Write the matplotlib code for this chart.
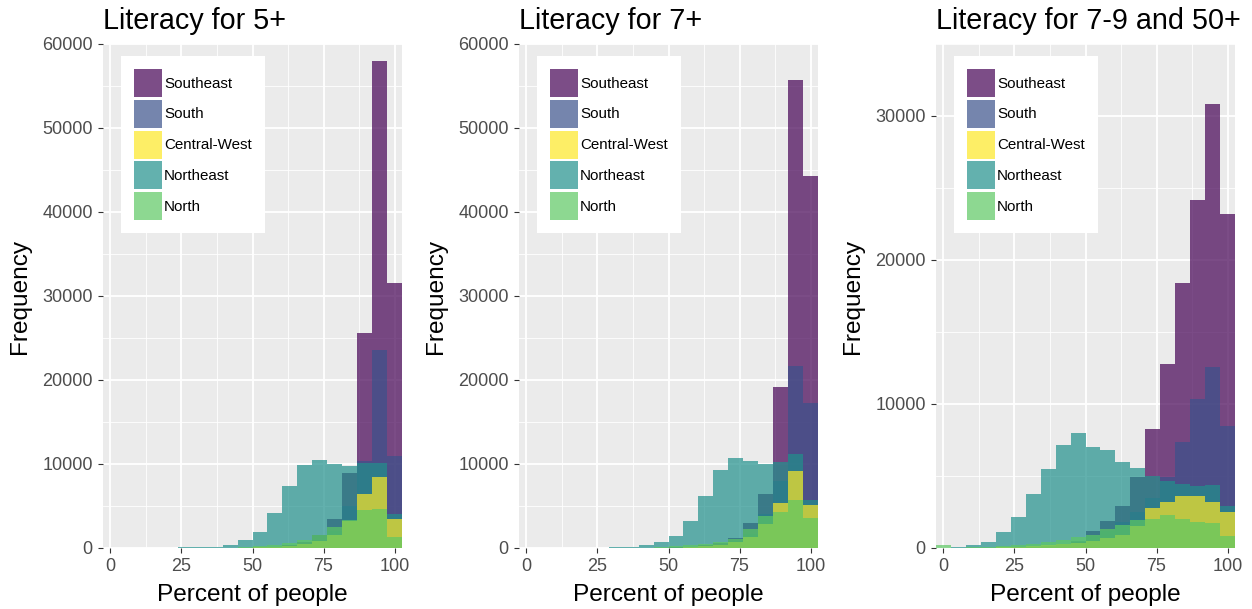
import numpy as np
import matplotlib
matplotlib.use("Agg")
import matplotlib.pyplot as plt
from matplotlib.patches import Patch
from matplotlib.ticker import AutoMinorLocator

plt.rcParams['font.family'] = ['Liberation Sans', 'DejaVu Sans']

# 20 bins of width 100/19 centred on 0, 5.26, ..., 100
n_bins = 20
titles = ["Literacy for 5+", "Literacy for 7+", "Literacy for 7-9 and 50+"]
regions = ["Southeast", "South", "Central-West", "Northeast", "North"]
draw_order = ["Southeast", "South", "Northeast", "Central-West", "North"]
colors = {"Southeast": "#440154", "South": "#3B528B", "Central-West": "#FDE725",
          "Northeast": "#21908C", "North": "#5DC863"}

# counts per bin, panel 1 (5+)
se_5 = [0, 0, 0, 0, 0, 0, 0, 10, 20, 40, 80, 150, 350, 700, 1500, 3410, 8970, 25640, 58000, 31500]
s_5 = [0, 0, 0, 0, 0, 0, 0, 5, 10, 20, 40, 80, 180, 400, 900, 2000, 5000, 10400, 23570, 10900]
cw_5 = [0, 0, 0, 0, 0, 0, 0, 5, 10, 30, 60, 120, 250, 450, 800, 1600, 3250, 6430, 8490, 3450]
ne_5 = [20, 10, 20, 30, 50, 80, 120, 150, 350, 900, 1900, 4130, 7380, 9880, 10480, 9960, 9760, 10080, 10160, 4100]
n_5 = [0, 0, 0, 0, 0, 10, 20, 30, 50, 100, 200, 320, 560, 950, 1550, 2540, 3330, 4520, 4640, 1350]

# panel 2 (7+)
se_7 = [0, 0, 0, 0, 0, 0, 0, 10, 20, 40, 60, 130, 300, 600, 1200, 2980, 6430, 19130, 55710, 44290]
s_7 = [0, 0, 0, 0, 0, 0, 0, 5, 10, 20, 30, 70, 150, 350, 800, 1700, 4000, 8000, 21670, 17220]
cw_7 = [0, 0, 0, 0, 0, 0, 0, 5, 10, 20, 50, 100, 200, 400, 700, 1300, 2800, 5400, 9170, 5120]
ne_7 = [10, 10, 10, 20, 30, 50, 80, 150, 350, 750, 1430, 3210, 6190, 9290, 10750, 10390, 10000, 10280, 11190, 5710]
n_7 = [0, 0, 0, 0, 0, 0, 10, 20, 40, 90, 180, 300, 450, 710, 1110, 2220, 3800, 4330, 5710, 3530]

# panel 3 (7-9 and 50+)
se_79 = [0, 0, 0, 0, 10, 30, 80, 150, 250, 400, 1200, 1900, 2920, 4950, 8240, 12750, 18430, 24170, 30830, 23190]
s_79 = [0, 0, 0, 0, 0, 40, 80, 150, 300, 500, 800, 1200, 1800, 2500, 3500, 4950, 7380, 10320, 12550, 8470]
cw_79 = [0, 0, 10, 20, 40, 70, 120, 180, 250, 350, 500, 700, 900, 1500, 2750, 3220, 3610, 3610, 3170, 2480]
ne_79 = [20, 50, 200, 440, 1090, 2130, 3750, 5460, 7150, 7960, 7040, 6810, 5990, 5530, 5020, 4680, 4420, 4330, 4380, 2940]
n_79 = [200, 30, 60, 80, 120, 200, 300, 400, 550, 750, 900, 1300, 1600, 1950, 2010, 2290, 2010, 1830, 1710, 860]

panels = [
    {"Southeast": se_5, "South": s_5, "Central-West": cw_5, "Northeast": ne_5, "North": n_5},
    {"Southeast": se_7, "South": s_7, "Central-West": cw_7, "Northeast": ne_7, "North": n_7},
    {"Southeast": se_79, "South": s_79, "Central-West": cw_79, "Northeast": ne_79, "North": n_79},
]
y_max = [60000, 60000, 35000]
y_ticks = [np.arange(0, 60001, 10000), np.arange(0, 60001, 10000), np.arange(0, 30001, 10000)]

width = 100 / (n_bins - 1)
edges = np.linspace(-width / 2, 100 + width / 2, n_bins + 1)

fig = plt.figure(figsize=(12.52, 6.09), dpi=100)
lefts = [103, 519, 936]

for k in range(3):
    ax = fig.add_axes([lefts[k] / 1252, 1 - 548 / 609, 299 / 1252, 504 / 609])
    ax.set_facecolor("#EBEBEB")
    for name in draw_order:
        ax.stairs(panels[k][name], edges, fill=True, color=colors[name],
                  alpha=0.7, linewidth=0)
    ax.set_xlim(edges[0], edges[-1])
    ax.set_ylim(0, y_max[k])
    ax.set_xticks([0, 25, 50, 75, 100])
    ax.set_yticks(y_ticks[k])
    ax.xaxis.set_minor_locator(AutoMinorLocator(2))
    ax.yaxis.set_minor_locator(AutoMinorLocator(2))
    ax.set_axisbelow(True)
    ax.grid(which="major", color="white", linewidth=1.3)
    ax.grid(which="minor", color="white", linewidth=0.6)
    for s in ax.spines.values():
        s.set_visible(False)
    ax.tick_params(which="major", direction="out", length=3.4, width=0.8,
                   color="#333333", labelcolor="#4D4D4D", labelsize=13, pad=4)
    ax.tick_params(which="minor", length=0)
    ax.set_xlabel("Percent of people", fontsize=17.6, labelpad=6)
    ax.set_ylabel("Frequency", fontsize=17.6, labelpad=8)
    ax.set_title(titles[k], loc="left", fontsize=20.7, pad=11)

    handles = [Patch(facecolor=colors[r], alpha=0.7, edgecolor="none") for r in regions]
    leg = ax.legend(handles, regions, loc="upper left", bbox_to_anchor=(0.06, 0.976),
                    borderaxespad=0, frameon=True, fancybox=False, facecolor="white",
                    edgecolor="none", framealpha=1, fontsize=10.9, handlelength=1.85,
                    handleheight=2.47, labelspacing=0.18, handletextpad=0.15,
                    borderpad=0.86)

fig.savefig("out.png", dpi=100)
